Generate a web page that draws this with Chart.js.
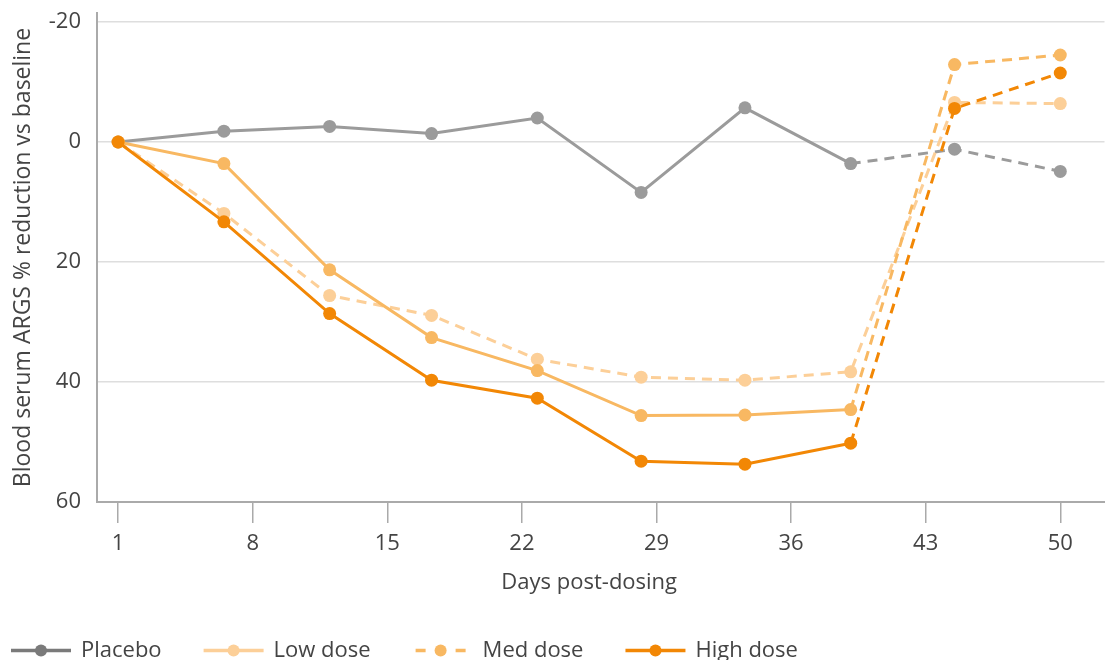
<!DOCTYPE html>
<html>
<head>
<meta charset="utf-8">
<title>Blood serum ARGS reduction</title>
<script src="https://cdn.jsdelivr.net/npm/chart.js@4.4.1/dist/chart.umd.min.js"></script>
<style>
  html, body { margin: 0; padding: 0; background: #fff; overflow: hidden; }
  /* a few px wider than the window: the plot area runs to the right edge */
  #wrap { position: relative; width: 1111px; height: 660px; }
</style>
</head>
<body>
<div id="wrap"><canvas id="chart"></canvas></div>
<script>
'use strict';

// x positions of the measurements (days) and axis ticks
const days = [1, 6.5, 12, 17.3, 22.8, 28.2, 33.6, 39.1, 44.5, 50];
const dayTicks = [1, 8, 15, 22, 29, 36, 43, 50];
const pctTicks = [-20, 0, 20, 40, 60];

const seriesNames = ['Placebo', 'Low dose', 'Med dose', 'High dose'];
const placebo = [0, -1.8, -2.6, -1.4, -4.0, 8.4, -5.7, 3.6, 1.2, 4.9];
const lowDose = [0, 11.9, 25.6, 28.9, 36.2, 39.2, 39.7, 38.3, -6.6, -6.4];
const medDose = [0, 3.6, 21.3, 32.6, 38.1, 45.6, 45.5, 44.6, -12.9, -14.5];
const highDose = [0, 13.3, 28.6, 39.7, 42.7, 53.2, 53.7, 50.2, -5.6, -11.5];

const xTitle = 'Days post-dosing';

const GREY = '#9b9b9b';
const LIGHT = '#fccf98';
const MID = '#f8b862';
const DARK = '#f28705';
const TEXT = '#444';
const DASH = [10, 7];

function toPoints(values) {
  return values.map(function (v, i) {
    return { x: days[i], y: v };
  });
}

// dashed after the last dosing-period point (index 7)
function tailDash(ctx) {
  return ctx.p0DataIndex >= 7 ? DASH : undefined;
}

function lineDataset(label, values, color, opts) {
  return Object.assign({
    label: label,
    data: toPoints(values),
    borderColor: color,
    backgroundColor: color,
    pointBackgroundColor: color,
    pointBorderWidth: 0,
    pointRadius: 6.5,
    pointHoverRadius: 6.5,
    borderWidth: 3,
    tension: 0,
    fill: false,
    segment: { borderDash: tailDash },
  }, opts || {});
}

// no extra room for label overflow, layout padding decides the edges
function noScalePadding(scale) {
  scale.paddingTop = 0;
  scale.paddingBottom = 0;
  scale.paddingLeft = 0;
  scale.paddingRight = 0;
}

// x title centred between the first and last day ticks
const xAxisTitle = {
  id: 'xAxisTitle',
  afterDraw: function (chart) {
    const scale = chart.scales.x;
    const ctx = chart.ctx;
    const cx = (scale.getPixelForValue(dayTicks[0]) +
      scale.getPixelForValue(dayTicks[dayTicks.length - 1])) / 2;
    ctx.save();
    ctx.font = '22px "Open Sans", sans-serif';
    ctx.fillStyle = TEXT;
    ctx.textAlign = 'center';
    ctx.textBaseline = 'middle';
    ctx.fillText(xTitle, cx, scale.bottom - 13);
    ctx.restore();
  }
};

// legend drawn as line + dot symbols under the axis title
const lineLegend = {
  id: 'lineLegend',
  afterDraw: function (chart) {
    const ctx = chart.ctx;
    const y = 650.5;
    let x = 11;
    ctx.save();
    ctx.font = '22px "Open Sans", sans-serif';
    ctx.textBaseline = 'alphabetic';
    chart.data.datasets.forEach(function (ds) {
      const color = ds.legendColor || ds.borderColor;
      ctx.strokeStyle = color;
      ctx.fillStyle = color;
      ctx.lineWidth = 3.5;
      ctx.beginPath();
      if (ds.legendDashed) {
        ctx.moveTo(x + 3, y); ctx.lineTo(x + 13, y);
        ctx.moveTo(x + 43, y); ctx.lineTo(x + 53, y);
      } else {
        ctx.moveTo(x, y); ctx.lineTo(x + 60, y);
      }
      ctx.stroke();
      ctx.beginPath();
      ctx.arc(x + (ds.legendDashed ? 28 : 30), y, 6, 0, Math.PI * 2);
      ctx.fill();
      x += 60 + 10;
      ctx.fillStyle = TEXT;
      ctx.fillText(ds.label, x, y + 6.5);
      x += ctx.measureText(ds.label).width + 42;
    });
    ctx.restore();
  }
};

Chart.defaults.font.family = '"Open Sans", sans-serif';
Chart.defaults.font.size = 22;
Chart.defaults.color = TEXT;

new Chart(document.getElementById('chart'), {
  type: 'line',
  data: {
    datasets: [
      lineDataset(seriesNames[0], placebo, GREY, { order: 3, legendColor: '#7a7a7a' }),
      lineDataset(seriesNames[1], lowDose, LIGHT, { order: 2, segment: { borderDash: function () { return DASH; } } }),
      lineDataset(seriesNames[2], medDose, MID, { order: 1, legendDashed: true }),
      lineDataset(seriesNames[3], highDose, DARK, { order: 0 }),
    ],
  },
  options: {
    responsive: true,
    maintainAspectRatio: false,
    animation: false,
    devicePixelRatio: 1,
    layout: { padding: { top: 13, right: 0, bottom: 64, left: 0 } },
    plugins: {
      legend: { display: false },
      tooltip: { enabled: false },
    },
    scales: {
      x: {
        type: 'linear',
        min: -0.1,
        max: 52.3,
        afterBuildTicks: function (scale) {
          scale.ticks = dayTicks.map(function (v) { return { value: v }; });
        },
        afterFit: function (scale) {
          scale.height = 94;
          noScalePadding(scale);
        },
        grid: {
          drawOnChartArea: false,
          drawTicks: true,
          tickLength: 21,
          color: '#aaa',
          lineWidth: 1.5,
        },
        border: { display: true, color: '#aaa', width: 2 },
        ticks: { padding: 8, maxRotation: 0, autoSkip: false },
        title: { display: false },
      },
      y: {
        reverse: true,
        min: -21.5,
        max: 60,
        afterBuildTicks: function (scale) {
          scale.ticks = pctTicks.map(function (v) { return { value: v }; });
        },
        afterFit: function (scale) {
          scale.width = 97;
          noScalePadding(scale);
        },
        grid: {
          drawTicks: false,
          color: '#dedede',
          lineWidth: 1.5,
        },
        border: { display: true, color: '#aaa', width: 2 },
        ticks: { padding: 16 },
        title: {
          display: true,
          text: 'Blood serum ARGS % reduction vs baseline',
          font: { size: 23 },
          padding: { top: 10, bottom: 0 },
        },
      },
    },
  },
  plugins: [xAxisTitle, lineLegend],
});
</script>
</body>
</html>
